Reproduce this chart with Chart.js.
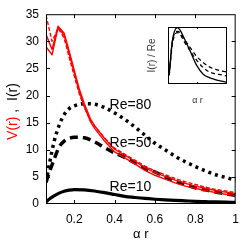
<!DOCTYPE html>
<html>
<head>
<meta charset="utf-8">
<script src="https://cdn.jsdelivr.net/npm/chart.js@4.4.0/dist/chart.umd.min.js"></script>
<style>
  html, body { margin: 0; padding: 0; background: #fff; }
  #wrap { position: relative; width: 247px; height: 246px; }
  #main { position: absolute; left: 0; top: 0; }
  #inset { position: absolute; left: 140px; top: 20px; }
</style>
</head>
<body>
<div id="wrap">
  <canvas id="main" width="247" height="246"></canvas>
  <canvas id="inset" width="96" height="90"></canvas>
</div>
<script>
//data
var alphaR = [0.06, 0.08, 0.1, 0.125, 0.15, 0.175, 0.2, 0.25, 0.3, 0.35, 0.4, 0.45, 0.5, 0.55, 0.6, 0.65, 0.7, 0.75, 0.8, 0.85, 0.9, 0.95, 1.0];
var I_re10 = [0.4, 1.0, 1.5, 2.0, 2.35, 2.55, 2.65, 2.6, 2.4, 2.1, 1.75, 1.4, 1.2, 1.02, 0.88, 0.76, 0.66, 0.58, 0.5, 0.44, 0.38, 0.33, 0.3];
var I_re50 = [4.0, 6.2, 8.2, 10.5, 11.6, 12.1, 12.3, 12.2, 11.5, 10.4, 9.4, 8.6, 7.6, 6.6, 5.9, 5.0, 4.2, 3.6, 3.0, 2.6, 2.2, 1.9, 1.6];
var I_re80 = [4.0, 8.0, 11.5, 14.5, 16.5, 17.6, 18.1, 18.5, 18.4, 17.8, 16.8, 15.6, 14.2, 12.7, 11.2, 10.0, 8.8, 7.8, 6.9, 6.1, 5.4, 4.9, 4.4];

var alphaR_V = [0.06, 0.09, 0.12, 0.15, 0.175, 0.2, 0.225, 0.25, 0.28, 0.3, 0.35, 0.4, 0.45, 0.5, 0.55, 0.6, 0.65, 0.7, 0.75, 0.8, 0.85, 0.9, 0.95, 1.0];
var V_a = [29.0, 27.5, 32.6, 31.1, 27.7, 24.2, 20.7, 18.0, 15.2, 14.0, 11.6, 9.6, 8.5, 7.4, 6.2, 5.3, 4.6, 3.9, 3.3, 2.9, 2.5, 2.1, 1.8, 1.6];
var V_b = [31.3, 28.5, 32.8, 31.5, 28.2, 24.7, 21.2, 18.5, 15.7, 14.5, 12.1, 10.1, 9.0, 7.9, 6.7, 5.8, 5.1, 4.4, 3.8, 3.3, 2.9, 2.5, 2.2, 1.9];
var V_c = [34.8, 30.0, 32.4, 30.6, 27.0, 23.6, 20.3, 17.8, 15.4, 14.4, 12.2, 10.3, 9.2, 8.1, 7.0, 6.1, 5.4, 4.7, 4.1, 3.6, 3.1, 2.7, 2.4, 2.1];

var xTicks = [0.2, 0.4, 0.6, 0.8, 1];
var yTicks = [0, 5, 10, 15, 20, 25, 30, 35];
var reLabels = ['Re=80', 'Re=50', 'Re=10'];
var reLabelY = [18.2, 11.3, 3.1];

//inset: I(r)/Re
var insetR = [0.08, 0.13, 0.21, 0.25, 0.31, 0.42, 0.52, 0.62, 0.72, 0.81, 0.91, 1.0];
var inset_solid = [0.050, 0.213, 0.277, 0.266, 0.230, 0.157, 0.090, 0.048, 0.031, 0.022, 0.014, 0.008];
var inset_dashA = [0.056, 0.210, 0.258, 0.252, 0.224, 0.176, 0.134, 0.106, 0.084, 0.073, 0.064, 0.059];
var inset_dashB = [0.042, 0.196, 0.252, 0.246, 0.213, 0.160, 0.115, 0.081, 0.059, 0.050, 0.045, 0.039];

Chart.defaults.font.family = "'Liberation Sans', Arial, Helvetica, sans-serif";
Chart.defaults.color = '#000';

function pts(xs, ys){
    return xs.map(function(v, i){ return {x: v, y: ys[i]}; });
}

function line(xs, ys, color, width, dash, smooth){
    var ds = {
        data: pts(xs, ys),
        borderColor: color,
        borderWidth: width,
        borderDash: dash || [],
        borderCapStyle: 'butt',
        borderJoinStyle: 'round',
        pointRadius: 0,
        fill: false,
        tension: 0
    };
    if (smooth) ds.cubicInterpolationMode = 'monotone';
    return ds;
}

//box with inward ticks, matlab style
var boxPlugin = {
    id: 'box',
    afterDatasetsDraw: function(chart, args, opts){
        var ctx = chart.ctx, a = chart.chartArea;
        var sx = chart.scales.x, sy = chart.scales.y;
        ctx.save();
        ctx.strokeStyle = '#000';
        ctx.lineWidth = 1;
        ctx.strokeRect(a.left + 0.5, a.top + 0.5, a.right - a.left - 1, a.bottom - a.top - 1);
        var len = opts.len || 0;
        ctx.beginPath();
        (opts.xt || []).forEach(function(v){
            var px = Math.round(sx.getPixelForValue(v)) + 0.5;
            ctx.moveTo(px, a.bottom); ctx.lineTo(px, a.bottom - len);
            ctx.moveTo(px, a.top); ctx.lineTo(px, a.top + len);
        });
        (opts.yt || []).forEach(function(v){
            var py = Math.round(sy.getPixelForValue(v)) + 0.5;
            ctx.moveTo(a.left, py); ctx.lineTo(a.left + len, py);
            ctx.moveTo(a.right, py); ctx.lineTo(a.right - len, py);
        });
        ctx.stroke();
        ctx.restore();
    }
};

//y title in two colours + Re labels
var textPlugin = {
    id: 'texts',
    afterDraw: function(chart){
        var ctx = chart.ctx;
        var sx = chart.scales.x, sy = chart.scales.y;
        ctx.save();
        ctx.font = "14px 'Liberation Sans', Arial, sans-serif";
        var parts = [['V(r)', '#ff0000'], [' ,  ', '#000'], ['I(r)', '#000']];
        var total = 0;
        parts.forEach(function(p){ total += ctx.measureText(p[0]).width; });
        ctx.translate(13, 111.5);
        ctx.rotate(-Math.PI / 2);
        ctx.textBaseline = 'middle';
        ctx.textAlign = 'left';
        var pos = -total / 2;
        parts.forEach(function(p){
            ctx.fillStyle = p[1];
            ctx.fillText(p[0], pos, 0);
            pos += ctx.measureText(p[0]).width;
        });
        ctx.restore();

        ctx.save();
        ctx.font = "14px 'Liberation Sans', Arial, sans-serif";
        ctx.fillStyle = '#000';
        ctx.textBaseline = 'middle';
        ctx.textAlign = 'left';
        reLabels.forEach(function(t, i){
            ctx.fillText(t, sx.getPixelForValue(0.375), sy.getPixelForValue(reLabelY[i]));
        });
        ctx.restore();
    }
};

var mainChart = new Chart(document.getElementById('main').getContext('2d'), {
    type: 'line',
    data: {
        datasets: [
            line(alphaR_V, V_a, '#ff0000', 1.4),
            line(alphaR_V, V_b, '#ff0000', 1.4),
            line(alphaR_V, V_c, '#ff0000', 1.4, [4, 2]),
            line(alphaR, I_re10, '#000', 3.2, null, true),
            line(alphaR, I_re50, '#000', 3.5, [8, 5], true),
            line(alphaR, I_re80, '#000', 3.5, [3, 4], true)
        ]
    },
    plugins: [boxPlugin, textPlugin],
    options: {
        responsive: false,
        animation: false,
        layout: { padding: { top: 12, right: 10, left: 0, bottom: 0 } },
        plugins: {
            legend: { display: false },
            tooltip: { enabled: false },
            box: { xt: [0.2, 0.4, 0.6, 0.8], yt: [5, 10, 15, 20, 25, 30], len: 4 }
        },
        scales: {
            x: {
                type: 'linear', min: 0.06, max: 1,
                grid: { display: false, drawTicks: false },
                border: { display: false },
                ticks: { font: { size: 12 }, color: '#000', padding: 8, autoSkip: false, maxRotation: 0,
                         callback: function(v){ return String(v); } },
                afterBuildTicks: function(s){ s.ticks = xTicks.map(function(v){ return {value: v}; }); },
                afterFit: function(s){ s.height = 42; },
                title: { display: true, text: 'α r', font: { size: 13 }, color: '#000', padding: { top: 0, bottom: 4 } }
            },
            y: {
                type: 'linear', min: 0, max: 35,
                grid: { display: false, drawTicks: false },
                border: { display: false },
                ticks: { font: { size: 12 }, color: '#000', padding: 7, autoSkip: false },
                afterBuildTicks: function(s){ s.ticks = yTicks.map(function(v){ return {value: v}; }); },
                afterFit: function(s){ s.width = 46; }
            }
        }
    }
});

var insetChart = new Chart(document.getElementById('inset').getContext('2d'), {
    type: 'line',
    data: {
        datasets: [
            line(insetR, inset_solid, '#000', 1.3, null, true),
            line(insetR, inset_dashA, '#000', 1.3, [4, 3], true),
            line(insetR, inset_dashB, '#000', 1.3, [4, 3], true)
        ]
    },
    plugins: [boxPlugin],
    options: {
        responsive: false,
        animation: false,
        layout: { padding: { top: 7, right: 9, left: 0, bottom: 0 } },
        plugins: {
            legend: { display: false },
            tooltip: { enabled: false },
            box: { xt: [0.52], yt: [], len: 2 }
        },
        scales: {
            x: {
                type: 'linear', min: 0.06, max: 1,
                grid: { display: false, drawTicks: false },
                border: { display: false },
                ticks: { display: false },
                afterFit: function(s){ s.height = 26; },
                title: { display: true, text: 'α r', font: { size: 9 }, color: '#333', padding: { top: 0, bottom: 4 } }
            },
            y: {
                type: 'linear', min: 0, max: 0.28,
                grid: { display: false, drawTicks: false },
                border: { display: false },
                ticks: { display: false },
                afterFit: function(s){ s.width = 28; },
                title: { display: true, text: 'I(r) / Re', font: { size: 10 }, color: '#333', padding: { top: 6, bottom: 0 } }
            }
        }
    }
});
</script>
</body>
</html>
